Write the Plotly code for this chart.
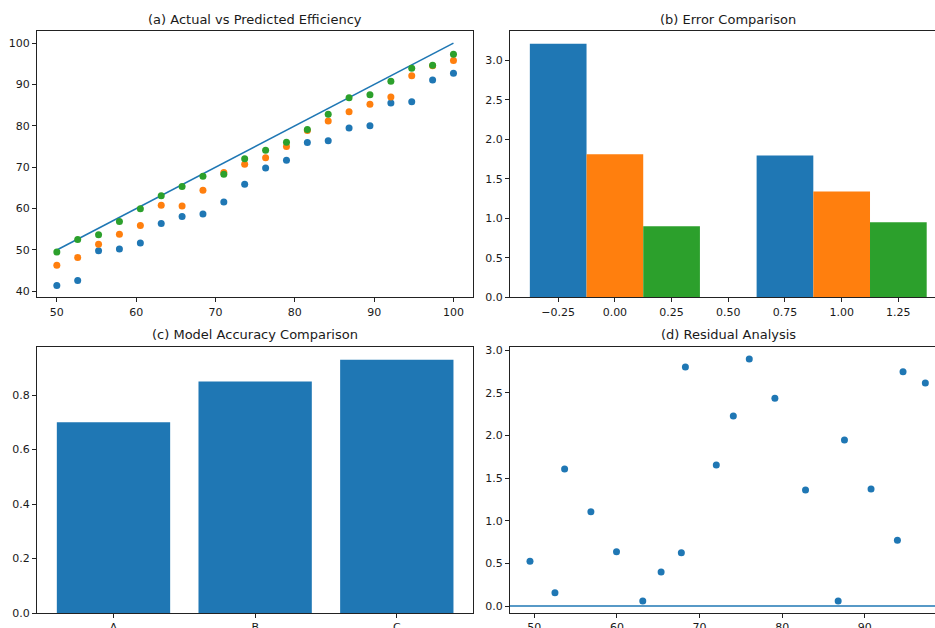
import plotly.graph_objects as go

# ---------------- data ----------------
x_true = [50, 52.63, 55.26, 57.89, 60.53, 63.16, 65.79, 68.42, 71.05, 73.68,
          76.32, 78.95, 81.58, 84.21, 86.84, 89.47, 92.11, 94.74, 97.37, 100]
pred_blue = [41.4, 42.6, 49.8, 50.2, 51.7, 56.4, 58.1, 58.7, 61.6, 65.9,
             69.8, 71.7, 76.0, 76.4, 79.5, 80.0, 85.5, 85.8, 91.1, 92.7]
pred_orange = [46.3, 48.2, 51.4, 53.8, 55.9, 60.8, 60.6, 64.4, 68.7, 70.7,
               72.3, 75.0, 78.9, 81.2, 83.4, 85.2, 87.0, 92.1, 94.5, 95.8]
pred_green = [49.48, 52.50, 53.67, 56.85, 59.95, 63.13, 65.35, 67.80, 68.29, 72.03,
              74.09, 76.02, 79.12, 82.83, 86.78, 87.54, 90.76, 93.95, 94.63, 97.33]

err_groups = [0, 1]
err_blue = [3.21, 1.795]
err_orange = [1.81, 1.34]
err_green = [0.90, 0.95]

models = ["A", "B", "C"]
accuracy = [0.70, 0.85, 0.93]

resid_x = [49.48, 52.50, 53.67, 56.85, 59.95, 63.13, 65.35, 67.80, 68.29, 72.03,
           74.09, 76.02, 79.12, 82.83, 86.78, 87.54, 90.76, 93.95, 94.63, 97.33]
resid_y = [0.524, 0.156, 1.608, 1.107, 0.638, 0.059, 0.399, 0.626, 2.804, 1.654,
           2.229, 2.898, 2.437, 1.361, 0.059, 1.948, 1.373, 0.771, 2.749, 2.617]
zero_line_x = [47.0, 100.0]
zero_line_y = [0, 0]

C0, C1, C2 = "#1f77b4", "#ff7f0e", "#2ca02c"

# ---------------- figure ----------------
W, H = 935, 628
fig = go.Figure()

MS = 7
# (a)
fig.add_trace(go.Scatter(x=x_true, y=x_true, mode="lines", line=dict(color=C0, width=1.6),
                         xaxis="x", yaxis="y", showlegend=False))
for ys, c in [(pred_blue, C0), (pred_orange, C1), (pred_green, C2)]:
    fig.add_trace(go.Scatter(x=x_true, y=ys, mode="markers",
                             marker=dict(color=c, size=MS, line=dict(width=0)),
                             xaxis="x", yaxis="y", showlegend=False))

# (b)
for ys, c, off in [(err_blue, C0, -0.375), (err_orange, C1, -0.125), (err_green, C2, 0.125)]:
    fig.add_trace(go.Bar(x=err_groups, y=ys, width=0.25, offset=off,
                         marker=dict(color=c, line=dict(width=0)),
                         xaxis="x2", yaxis="y2", showlegend=False))

# (c)
fig.add_trace(go.Bar(x=models, y=accuracy, width=0.8,
                     marker=dict(color=C0, line=dict(width=0)),
                     xaxis="x3", yaxis="y3", showlegend=False))

# (d)
fig.add_trace(go.Scatter(x=resid_x, y=resid_y, mode="markers",
                         marker=dict(color=C0, size=MS, line=dict(width=0)),
                         xaxis="x4", yaxis="y4", showlegend=False))
fig.add_trace(go.Scatter(x=zero_line_x, y=zero_line_y, mode="lines",
                         line=dict(color=C0, width=1.6),
                         xaxis="x4", yaxis="y4", showlegend=False))

def px_dom_x(a, b):
    return [a / W, min(b / W, 1.0)]

def px_dom_y(top, bottom):
    return [1 - bottom / H, 1 - top / H]

TXT = "#1a1a1a"
FONT = dict(family="DejaVu Sans", size=11, color=TXT)

def ax(domain, rng, mirror=True, **kw):
    d = dict(domain=domain, range=rng, showgrid=False, zeroline=False,
             showline=True, linecolor="#222", linewidth=1, mirror=mirror,
             ticks="outside", ticklen=4, tickwidth=1, tickcolor="#222",
             tickfont=FONT, automargin=False, fixedrange=True)
    d.update(kw)
    return d

top_y = px_dom_y(31, 297.3)
bot_y = px_dom_y(347, 613)
left_x = px_dom_x(37, 473.3)
right_x = px_dom_x(510, 935)

fig.update_layout(
    width=W, height=H,
    margin=dict(l=0, r=0, t=0, b=0),
    paper_bgcolor="white", plot_bgcolor="white",
    barmode="overlay",
    font=dict(family="DejaVu Sans", color=TXT),
    xaxis=ax(left_x, [47.5, 102.5], anchor="y", tickvals=[50, 60, 70, 80, 90, 100]),
    yaxis=ax(top_y, [38.55, 102.93], anchor="x", tickvals=[40, 50, 60, 70, 80, 90, 100]),
    xaxis2=ax(right_x, [-0.4625, 1.4116], anchor="y2",
              tickvals=[-0.25, 0, 0.25, 0.5, 0.75, 1.0, 1.25], tickformat=".2f"),
    yaxis2=ax(top_y, [0, 3.3705], anchor="x2", mirror=False,
              tickvals=[0, 0.5, 1.0, 1.5, 2.0, 2.5, 3.0], tickformat=".1f"),
    xaxis3=ax(left_x, [-0.54, 2.54], anchor="y3", type="category"),
    yaxis3=ax(bot_y, [0, 0.9765], anchor="x3",
              tickvals=[0, 0.2, 0.4, 0.6, 0.8], tickformat=".1f"),
    xaxis4=ax(right_x, [47.06, 98.5], anchor="y4", tickvals=[50, 60, 70, 80, 90]),
    yaxis4=ax(bot_y, [-0.082, 3.039], anchor="x4", mirror=False,
              tickvals=[0, 0.5, 1.0, 1.5, 2.0, 2.5, 3.0], tickformat=".1f"),
)

titles = [("(a) Actual vs Predicted Efficiency", 255, 19),
          ("(b) Error Comparison", 728, 19),
          ("(c) Model Accuracy Comparison", 255, 334.5),
          ("(d) Residual Analysis", 728, 334.5)]
for t, xp, yp in titles:
    fig.add_annotation(text=t, x=xp / W, y=1 - yp / H, xref="paper", yref="paper",
                       xanchor="center", yanchor="middle", showarrow=False,
                       font=dict(family="DejaVu Sans", size=13, color=TXT))

fig.write_html("out.html", config={"displayModeBar": False},
               post_script="document.body.style.margin='0';document.body.style.overflow='hidden';")
